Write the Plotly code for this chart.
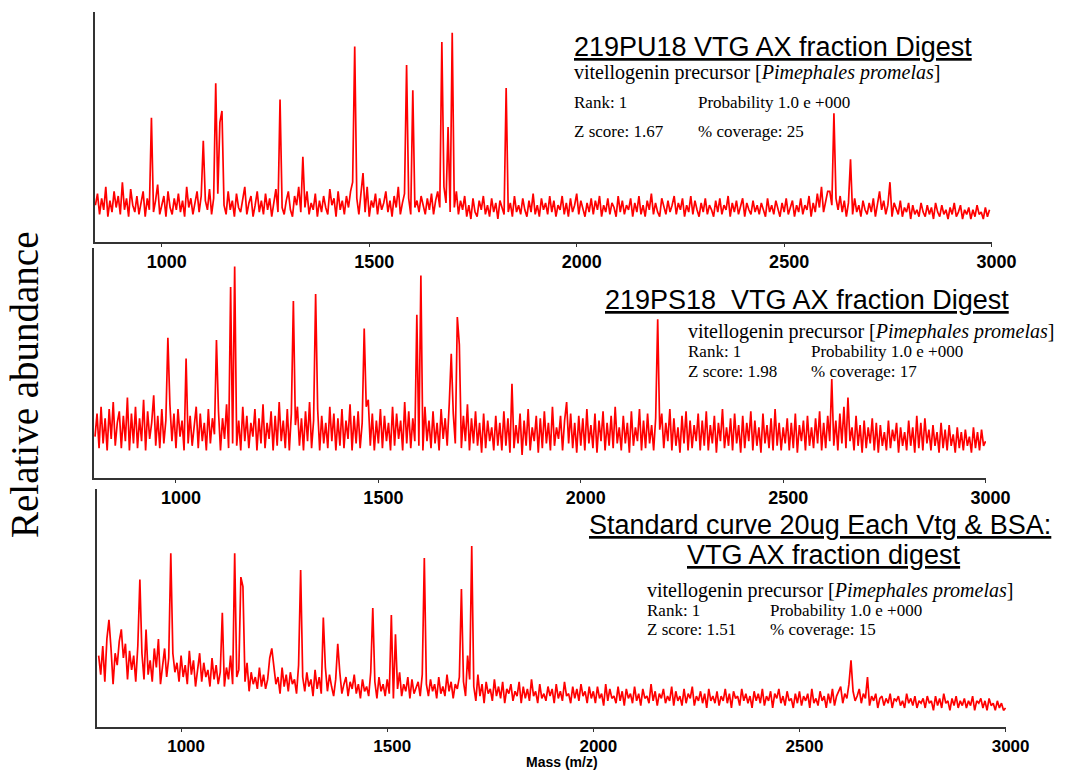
import plotly.graph_objects as go

# ---------------- data (relative intensity, 0-100 of each panel height) ----------------
mz_step = 5

# Panel 1: 219PU18
p1_start = 840
p1_noise = [
    16,21,12,19,14,24,11,18,13,22,15,20,12,26,14,19,11,23,16,13,
    20,12,17,22,11,19,14,21,13,18,25,12,16,20,11,22,15,12,19,14,
    21,13,18,11,24,15,19,12,17,22,13,20,11,18,14,23,12,19,15,21,
    13,20,16,12,22,14,18,11,21,15,13,19,24,12,17,20,11,16,22,13,
    18,12,21,14,19,11,17,23,13,20,15,12,18,22,14,11,20,16,24,13,
    19,15,22,12,17,14,21,11,18,13,20,15,12,23,16,19,11,22,14,18,
    12,20,15,22,26,14,19,12,21,16,13,24,11,18,15,21,12,19,14,17,
    22,13,18,11,20,15,24,12,17,21,14,19,12,25,15,18,13,20,16,12,
    19,14,21,12,18,22,15,20,24,17,21,13,19,15,22,12,18,14,20,11,
    16,10,19,13,11,18,14,20,12,16,11,19,13,17,10,18,15,12,20,13,
    17,11,20,13,16,12,19,14,11,18,13,21,12,16,11,19,14,17,12,20,
    13,18,11,16,14,20,12,17,11,19,13,16,21,12,18,14,11,17,13,19,
    12,18,14,20,11,16,13,19,12,17,15,11,20,13,18,12,16,14,19,11,
    17,13,20,12,16,11,18,14,21,12,17,13,11,19,15,12,18,13,16,20,
    12,17,14,19,11,16,13,20,12,18,14,11,17,13,19,12,16,14,11,18,
    13,19,12,16,14,20,11,17,13,18,12,15,19,11,17,14,12,18,13,16,
    12,17,14,11,19,13,16,12,18,14,11,17,13,19,12,15,18,11,16,13,
    19,12,16,14,20,11,17,13,21,15,24,13,18,14,22,16,12,19,14,20,
    13,18,11,17,14,12,19,13,16,11,18,14,12,17,13,19,11,16,22,14,
    18,12,16,13,11,17,14,12,18,11,15,13,17,10,16,12,14,11,17,13,
    11,16,12,15,10,17,13,11,16,12,14,10,15,12,17,11,13,16,10,14,
    12,15,10,14,11,16,12,13,10,15,11,14,
]
p1_peak_mz = [974, 1099, 1130, 1140, 1145, 1287, 1342, 1463, 1484, 1588, 1605,
              1677, 1692, 1701, 1829, 2605, 2619, 2660, 2754]
p1_peak_h = [54, 44, 69, 52, 57, 62, 37, 85, 30, 77, 66,
             87, 50, 91, 67, 22, 56, 36, 26]

# Panel 2: 219PS18
p2_start = 800
p2_noise = [
    18,28,13,31,15,26,12,30,17,33,14,24,29,13,27,16,35,12,28,15,
    31,13,26,16,34,12,29,17,24,36,14,27,13,30,15,25,12,32,16,28,
    13,30,18,25,12,33,15,27,14,22,31,13,28,16,24,12,30,15,26,19,
    14,29,12,26,17,32,13,28,15,35,14,25,12,31,16,27,13,24,18,30,
    12,26,15,32,13,24,17,29,12,27,14,33,16,25,13,30,12,28,17,23,
    31,14,26,12,29,16,33,13,25,18,30,12,27,15,24,13,31,16,28,12,
    26,14,30,13,25,17,32,12,27,15,29,13,24,16,31,34,14,28,12,25,
    15,30,13,27,16,24,12,31,14,28,17,25,12,33,15,29,13,26,16,30,
    14,27,12,31,16,25,13,29,15,24,12,30,17,26,14,32,13,28,15,25,
    30,13,27,16,32,12,26,15,29,14,24,11,28,13,25,16,22,12,27,14,
    24,12,29,14,26,11,31,13,23,15,28,10,25,14,30,12,22,16,27,11,
    26,13,29,15,24,12,31,14,22,17,27,12,25,33,15,28,13,24,11,27,
    14,26,12,30,15,23,13,28,11,25,16,29,12,24,14,27,13,31,15,22,
    12,27,15,24,11,29,14,22,16,30,12,25,13,28,15,23,12,26,14,21,
    28,13,24,16,30,12,26,14,22,11,27,15,29,12,25,13,23,16,28,12,
    25,14,29,12,23,15,27,11,24,16,30,13,22,14,26,12,28,15,23,11,
    27,13,24,16,29,12,25,14,22,11,28,15,23,13,26,12,30,14,24,12,
    22,15,26,12,24,13,28,11,23,16,25,12,27,14,22,13,26,15,29,12,
    24,13,27,16,30,14,25,12,28,15,31,13,24,16,22,12,27,14,23,11,
    25,13,22,15,26,12,24,11,23,14,20,12,25,13,21,16,24,11,22,14,
    20,12,25,14,22,11,27,13,24,12,26,15,21,12,23,14,20,11,24,13,
    21,12,23,14,19,11,22,13,20,12,21,14,18,11,22,13,20,12,21,14,
    16,
]
p2_peak_mz = [978, 1025, 1101, 1133, 1143, 1289, 1346, 1467, 1593, 1605,
              1681, 1694, 1701, 1830, 2190, 2590, 2622, 2662]
p2_peak_h = [61, 52, 60, 83, 92, 77, 80, 65, 71, 88,
             54, 70, 58, 41, 69, 29, 43, 35]

# Panel 3: Standard curve
p3_start = 800
p3_noise = [
    30,22,34,19,37,24,33,18,31,26,36,21,29,35,20,32,24,30,19,34,
    23,31,20,35,22,28,19,33,25,30,18,27,33,21,29,20,31,23,27,19,
    30,21,26,18,32,22,28,17,25,31,19,27,21,24,17,29,20,26,18,23,
    28,17,25,20,30,18,26,21,24,16,22,19,27,15,23,18,21,16,25,17,
    22,16,20,29,15,24,18,21,14,25,17,22,15,23,18,20,14,26,16,21,
    15,23,17,20,13,24,16,21,14,19,25,15,22,17,13,20,16,23,14,18,
    21,13,19,16,22,14,18,12,20,15,17,13,23,14,19,12,21,15,18,13,
    20,14,22,12,19,16,23,13,18,15,21,12,20,14,17,19,13,22,15,18,
    13,20,15,18,12,21,14,17,13,22,15,19,12,18,16,21,14,19,13,17,
    20,14,17,11,22,13,18,10,19,14,16,11,20,13,17,12,19,10,16,14,
    18,11,15,13,19,10,17,12,16,11,20,13,15,10,18,12,14,11,17,13,
    16,10,18,12,15,11,19,13,14,10,17,12,16,11,18,13,15,10,17,12,
    15,10,17,12,14,9,18,11,16,12,13,10,17,11,15,9,16,12,14,10,
    17,11,14,9,16,12,13,10,18,11,15,9,14,12,16,10,13,11,17,9,
    15,11,13,9,16,10,14,12,17,9,13,11,15,10,14,8,16,11,13,10,
    15,9,13,11,16,10,14,8,15,12,13,9,16,11,14,10,13,8,15,11,
    14,10,16,9,13,11,15,8,14,12,16,10,13,9,15,11,12,8,14,10,
    15,9,13,11,14,8,16,10,12,9,15,11,13,8,14,10,16,9,13,15,
    17,10,14,12,18,9,15,11,13,16,10,14,12,15,9,13,11,14,8,12,
    13,9,12,10,14,8,12,11,13,9,11,8,14,10,12,9,13,8,11,10,
    12,8,13,10,11,7,13,9,12,8,14,10,11,7,12,9,13,8,11,9,
    12,8,11,9,13,7,11,10,12,8,11,7,12,9,10,7,11,8,10,7,
    8,
]
p3_peak_mz = [823, 854, 898, 917, 947, 976, 1100, 1131, 1143, 1148, 1218, 1289,
              1345, 1381, 1466, 1510, 1522, 1592, 1682, 1697, 1704, 2626, 2665]
p3_peak_h = [45, 41, 62, 41, 37, 73, 48, 73, 63, 59, 33, 66,
             46, 35, 50, 47, 39, 71, 58, 30, 76, 28, 21]

tick_vals = [1000, 1500, 2000, 2500, 3000]
tick_text = ["1000", "1500", "2000", "2500", "3000"]


def build(start, noise, pk_mz, pk_h):
    xs = [start + mz_step * i for i in range(len(noise))]
    ys = list(noise)
    for m, h in zip(pk_mz, pk_h):
        i = int(round((m - start) / mz_step))
        if 0 <= i < len(ys):
            ys[i] = max(ys[i], h)
    return xs, ys


W, H = 1066, 770
def px(x):
    return x / W
def py(y):
    return 1 - y / H

fig = go.Figure()
panels = [
    (build(p1_start, p1_noise, p1_peak_mz, p1_peak_h), "x", "y"),
    (build(p2_start, p2_noise, p2_peak_mz, p2_peak_h), "x2", "y2"),
    (build(p3_start, p3_noise, p3_peak_mz, p3_peak_h), "x3", "y3"),
]
for (xs, ys), xa, ya in panels:
    fig.add_trace(go.Scatter(x=xs, y=ys, mode="lines", xaxis=xa, yaxis=ya,
                             line=dict(color="#ff0000", width=1.7),
                             showlegend=False, hoverinfo="skip"))

geo = [
    # left px, right px, top px, bottom px, range start, tick font size
    (95, 992, 12, 242, 839, 18),
    (94, 986, 248, 478, 797.5, 18),
    (97, 1006, 489, 727, 796, 17),
]
xcommon = dict(showline=True, linecolor="#333333", linewidth=1.5, automargin=False,
               ticks="outside", ticklen=3, tickcolor="#333333", ticklabelshift=5,
               tickvals=tick_vals, ticktext=tick_text, showgrid=False, zeroline=False)
ycommon = dict(showline=True, linecolor="#333333", linewidth=1.5, showgrid=False,
               automargin=False, zeroline=False, showticklabels=False, ticks="",
               range=[0, 100])
layout_axes = {}
for k, (l, r, t, b, rs, fs) in enumerate(geo):
    sfx = "" if k == 0 else str(k + 1)
    layout_axes["xaxis" + sfx] = dict(
        xcommon, domain=[px(l), px(r)], range=[rs, 3001], anchor="y" + sfx,
        tickfont=dict(family="Arial", size=fs, color="black", weight="bold"))
    layout_axes["yaxis" + sfx] = dict(ycommon, domain=[py(b), py(t)], anchor="x" + sfx)

fig.update_layout(width=W, height=H, autosize=False, margin=dict(l=0, r=0, t=0, b=0),
                  paper_bgcolor="white", plot_bgcolor="white", **layout_axes)

SANS = "Arial, Liberation Sans, sans-serif"
SERIF = "Times New Roman, Liberation Serif, serif"
ann = []
def add(text, x, y, size, family, xanchor="left", yanchor="middle", angle=0):
    ann.append(dict(text=text, x=px(x), y=py(y), xref="paper", yref="paper",
                    xanchor=xanchor, yanchor=yanchor, showarrow=False, textangle=angle,
                    font=dict(family=family, size=size, color="black")))

sub = "vitellogenin precursor [<i>Pimephales promelas</i>]"
# panel 1
add("<u>219PU18 VTG AX fraction Digest</u>", 572, 47, 27, SANS)
add(sub, 572, 73, 20, SERIF)
add("Rank: 1", 572, 103, 17, SERIF)
add("Probability 1.0 e +000", 696, 103, 17, SERIF)
add("Z score: 1.67", 572, 131, 17, SERIF)
add("% coverage: 25", 696, 131, 17, SERIF)
# panel 2
add("<u>219PS18\u00a0 VTG AX fraction Digest</u>", 603, 300, 27, SANS)
add(sub, 686, 331, 20, SERIF)
add("Rank: 1", 686, 352, 17, SERIF)
add("Probability 1.0 e +000", 809, 352, 17, SERIF)
add("Z score: 1.98", 686, 371, 17, SERIF)
add("% coverage: 17", 809, 371, 17, SERIF)
# panel 3
add("<u>Standard curve 20ug Each Vtg &amp; BSA:</u>", 820, 525, 27, SANS, xanchor="center")
add("<u>VTG AX fraction digest</u>", 824, 555, 27, SANS, xanchor="center")
add(sub, 645, 590, 20, SERIF)
add("Rank: 1", 645, 610, 17, SERIF)
add("Probability 1.0 e +000", 768, 610, 17, SERIF)
add("Z score: 1.51", 645, 629, 17, SERIF)
add("% coverage: 15", 768, 629, 17, SERIF)
# axis titles
add("Relative abundance", 24, 385, 39, SERIF, xanchor="center", angle=-90)
add("<b>Mass (m/z)</b>", 562, 762, 14, SANS, xanchor="center")

fig.update_layout(annotations=ann)
fig.write_html(
    "out.html",
    config={"responsive": False, "displayModeBar": False},
    post_script="document.documentElement.style.overflow='hidden';"
                "document.body.style.margin='0px';document.body.style.overflow='hidden';",
)
